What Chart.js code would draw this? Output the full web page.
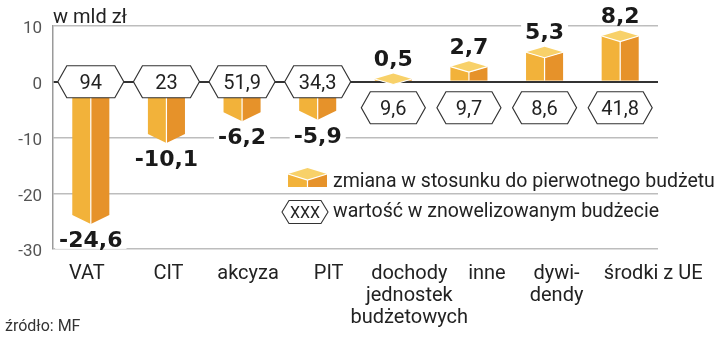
<!DOCTYPE html>
<html><head><meta charset="utf-8">
<script src="https://cdn.jsdelivr.net/npm/chart.js@4.4.1/dist/chart.umd.min.js"></script>
<style>html,body{margin:0;padding:0;background:#fff;}canvas{display:block;}</style>
</head><body>
<canvas id="c" width="720" height="337"></canvas>
<script>
// ---- data ----
const categories = [['VAT'], ['CIT'], ['akcyza'], ['PIT'], ['dochody', 'jednostek', 'budżetowych'], ['inne'], ['dywi-', 'dendy'], ['środki z UE']];
const changes = [-24.6, -10.1, -6.2, -5.9, 0.5, 2.7, 5.3, 8.2];
const revisedBudget = ['94', '23', '51,9', '34,3', '9,6', '9,7', '8,6', '41,8'];
const yTicks = [10, 0, -10, -20, -30];
const unitLabel = 'w mld zł';
const sourceLabel = 'źródło: MF';
const legendLabels = ['zmiana w stosunku do pierwotnego budżetu', 'wartość w znowelizowanym budżecie'];
const legendHexText = 'XXX';

// ---- styles ----
const COL = { top: '#f8d169', left: '#f2b23a', right: '#e6922a', ink: '#1a1a1a' };
const labelShift = [-4, 2, 6, 11, 16, 18, 12, 33];

function hexPath(ctx, cx, cy, w, h, inset) {
  ctx.beginPath();
  ctx.moveTo(cx - w / 2, cy);
  ctx.lineTo(cx - w / 2 + inset, cy - h / 2);
  ctx.lineTo(cx + w / 2 - inset, cy - h / 2);
  ctx.lineTo(cx + w / 2, cy);
  ctx.lineTo(cx + w / 2 - inset, cy + h / 2);
  ctx.lineTo(cx - w / 2 + inset, cy + h / 2);
  ctx.closePath();
}
function poly(ctx, pts, fill) {
  ctx.beginPath();
  pts.forEach((p, i) => i ? ctx.lineTo(p[0], p[1]) : ctx.moveTo(p[0], p[1]));
  ctx.closePath();
  ctx.fillStyle = fill; ctx.fill();
}
// upright box: top rhombus corners at yTop, faces down to yBottom
function drawUpBox(ctx, x, w, yTop, yBottom, d) {
  const l = x - w / 2, r = x + w / 2;
  ctx.save();
  ctx.beginPath(); ctx.rect(l - 2, yTop - d - 2, w + 4, yBottom - (yTop - d - 2)); ctx.clip();
  const fy = Math.max(yBottom, yTop + d);
  poly(ctx, [[l, yTop], [x, yTop + d], [x, fy], [l, fy]], COL.left);
  poly(ctx, [[x, yTop + d], [r, yTop], [r, fy], [x, fy]], COL.right);
  ctx.strokeStyle = '#fff'; ctx.lineWidth = 1.2;
  ctx.beginPath(); ctx.moveTo(x, yTop + d); ctx.lineTo(x, fy); ctx.stroke();
  ctx.restore();
  poly(ctx, [[l, yTop], [x, yTop - d], [r, yTop], [x, yTop + d]], COL.top);
  ctx.strokeStyle = '#fff'; ctx.lineWidth = 1.2;
  ctx.beginPath(); ctx.moveTo(l, yTop); ctx.lineTo(x, yTop + d); ctx.lineTo(r, yTop); ctx.stroke();
}
function drawDownBox(ctx, x, w, yEnd, yBase) {
  const l = x - w / 2, r = x + w / 2;
  poly(ctx, [[l, yBase], [x, yBase], [x, yEnd + 5], [l, yEnd - 4]], COL.left);
  poly(ctx, [[x, yBase], [r, yBase], [r, yEnd - 4], [x, yEnd + 5]], COL.right);
  ctx.strokeStyle = '#fff'; ctx.lineWidth = 1.2;
  ctx.beginPath(); ctx.moveTo(x, yBase); ctx.lineTo(x, yEnd + 5); ctx.stroke();
}

const decor = {
  id: 'decor',
  afterDatasetsDraw(chart) {
    const ctx = chart.ctx;
    const ys = chart.scales.y;
    const zero = ys.getPixelForValue(0);
    const meta = chart.getDatasetMeta(0);
    ctx.save();
    meta.data.forEach((bar, i) => {
      if (changes[i] < 0) drawDownBox(ctx, bar.x, bar.width, bar.y, bar.base);
      else drawUpBox(ctx, bar.x, bar.width, bar.y, bar.base, 5.5);
    });
    // hexagons with revised-budget values
    meta.data.forEach((bar, i) => {
      const neg = changes[i] < 0;
      const cy = neg ? zero : zero + 26;
      hexPath(ctx, bar.x, cy, neg ? 66 : 64, 32, 9);
      ctx.fillStyle = '#fff'; ctx.fill();
      ctx.lineWidth = 1.2; ctx.strokeStyle = '#333'; ctx.stroke();
      ctx.font = '20px Roboto'; ctx.textAlign = 'center'; ctx.textBaseline = 'alphabetic';
      ctx.fillStyle = '#222';
      ctx.fillText(revisedBudget[i], bar.x, cy + 7);
    });
    // value labels
    ctx.font = 'bold 22px "DejaVu Sans"';
    meta.data.forEach((bar, i) => {
      const v = changes[i];
      const txt = v.toFixed(1).replace('.', ',');
      const cy = v < 0 ? bar.y + 20 : bar.y - 21;
      const tw = ctx.measureText(txt).width;
      ctx.fillStyle = '#fff';
      ctx.fillRect(bar.x - tw / 2 - 4, cy - 10, tw + 8, 20);
      ctx.fillStyle = COL.ink; ctx.textAlign = 'center';
      ctx.fillText(txt, bar.x, cy + 8);
    });
    ctx.restore();
  },
  afterDraw(chart) {
    const ctx = chart.ctx;
    const xs = chart.scales.x;
    ctx.save();
    // category labels
    ctx.font = '20px Roboto'; ctx.fillStyle = '#222'; ctx.textAlign = 'center'; ctx.textBaseline = 'alphabetic';
    categories.forEach((lines, i) => {
      const cx = xs.getPixelForValue(i) + labelShift[i];
      lines.forEach((t, k) => ctx.fillText(t, cx, 279 + k * 22));
    });
    // unit label
    ctx.textAlign = 'left';
    ctx.font = '20px Roboto'; ctx.fillStyle = '#222';
    ctx.fillText(unitLabel, 53, 23);
    // source
    ctx.font = '16px Roboto'; ctx.fillStyle = '#333';
    ctx.fillText(sourceLabel, 5, 331);
    // legend
    drawUpBox(ctx, 307.5, 39, 174, 187, 6);
    ctx.font = '19.5px Roboto'; ctx.fillStyle = '#222'; ctx.textAlign = 'left';
    ctx.fillText(legendLabels[0], 333, 187);
    hexPath(ctx, 305, 212, 46, 23, 7);
    ctx.fillStyle = '#fff'; ctx.fill(); ctx.lineWidth = 1.1; ctx.strokeStyle = '#333'; ctx.stroke();
    ctx.font = '16px Roboto'; ctx.fillStyle = '#222'; ctx.textAlign = 'center';
    ctx.fillText(legendHexText, 305, 218);
    ctx.font = '19.5px Roboto'; ctx.textAlign = 'left';
    ctx.fillText(legendLabels[1], 333, 217);
    ctx.restore();
  }
};

new Chart(document.getElementById('c'), {
  type: 'bar',
  data: {
    labels: categories.map(c => c.join(' ')),
    datasets: [{
      data: changes,
      backgroundColor: 'rgba(0,0,0,0)',
      borderWidth: 0,
      barPercentage: 0.49,
      categoryPercentage: 1
    }]
  },
  options: {
    responsive: false,
    animation: false,
    devicePixelRatio: 1,
    layout: { padding: { top: 26, right: 62, left: 0, bottom: 0 } },
    plugins: { legend: { display: false }, tooltip: { enabled: false }, title: { display: false } },
    scales: {
      x: {
        grid: { display: false },
        border: { display: false },
        ticks: { display: false },
        afterFit(s) { s.height = 88; }
      },
      y: {
        min: Math.min(...yTicks),
        max: Math.max(...yTicks),
        afterBuildTicks(s) { s.ticks = yTicks.map(v => ({ value: v })); },
        afterFit(s) { s.width = 53; },
        border: { display: true, color: '#9a9a9a', width: 1.5 },
        grid: {
          drawTicks: false,
          color: c => c.tick && c.tick.value === 0 ? '#333' : '#bdbdbd',
          lineWidth: c => c.tick && c.tick.value === 0 ? 2 : 1.5
        },
        ticks: {
          padding: 11,
          labelOffset: 3,
          color: '#555',
          font: { family: 'Roboto', size: 17 },
          callback: v => String(v)
        }
      }
    }
  },
  plugins: [decor]
});
</script>
</body></html>
